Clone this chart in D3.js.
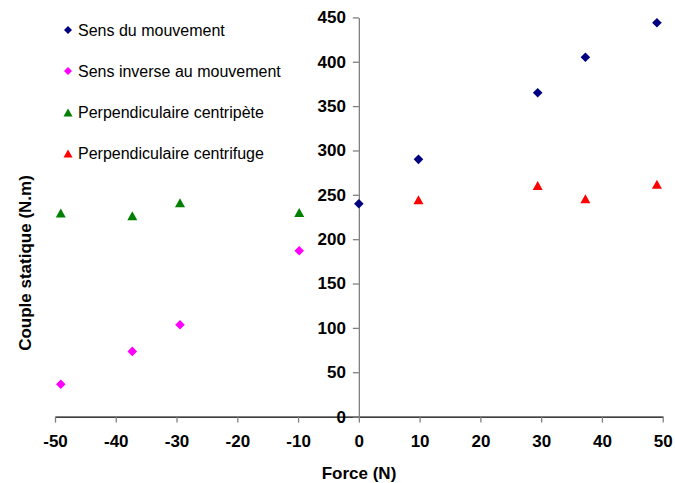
<!DOCTYPE html>
<html><head><meta charset="utf-8">
<script src="https://cdn.jsdelivr.net/npm/d3@7/dist/d3.min.js"></script>
<style>body{margin:0;background:#fff}svg{display:block}text{font-family:"Liberation Sans",Arial,sans-serif}</style>
</head><body><svg id="c" width="675" height="483"></svg>
<script>
const sensX = [0, 9.81, 29.43, 37.28, 49.05];
const sensY = [240, 290, 365, 405, 444];
const inverseX = [-49.05, -37.28, -29.43, -9.81];
const inverseY = [36.5, 73.5, 103.5, 187];
const centripeteX = [-49.05, -37.28, -29.43, -9.81];
const centripeteY = [229.5, 226.5, 241, 230];
const centrifugeX = [9.81, 29.43, 37.28, 49.05];
const centrifugeY = [244.5, 260.5, 245.5, 262];
const xTicks = [-50, -40, -30, -20, -10, 0, 10, 20, 30, 40, 50];
const yTicks = [0, 50, 100, 150, 200, 250, 300, 350, 400, 450];
const seriesNames = ["Sens du mouvement", "Sens inverse au mouvement", "Perpendiculaire centripète", "Perpendiculaire centrifuge"];

const svg = d3.select("#c");
const x = d3.scaleLinear().domain([-50, 50]).range([55, 662.7]);
const y = d3.scaleLinear().domain([0, 450]).range([416.6, 17.4]);
const fmt = d => String(d);

// x axis
const xa = svg.append("g").attr("transform", `translate(0,${y(0)})`)
  .call(d3.axisBottom(x).tickValues(xTicks).tickSize(6).tickSizeOuter(0).tickPadding(12).tickFormat(fmt));
xa.select(".domain").attr("stroke", "#000").attr("stroke-width", 1.3);
xa.selectAll(".tick line").attr("stroke", "#808080").attr("stroke-width", 1.3);
xa.selectAll(".tick text").attr("font-size", 17).attr("font-weight", "bold").attr("fill", "#000")
  .style("font-family", "'Liberation Sans',Arial,sans-serif");

// y axis
const ya = svg.append("g").attr("transform", `translate(${x(0)},0)`)
  .call(d3.axisLeft(y).tickValues(yTicks).tickSize(6).tickSizeOuter(0).tickPadding(7).tickFormat(fmt));
ya.select(".domain").attr("stroke", "#808080").attr("stroke-width", 1.3);
ya.selectAll(".tick line").attr("stroke", "#808080").attr("stroke-width", 1.3);
ya.selectAll(".tick text").attr("font-size", 17).attr("font-weight", "bold").attr("fill", "#000")
  .style("font-family", "'Liberation Sans',Arial,sans-serif");

// axis titles
svg.append("text").attr("x", 359).attr("y", 479).attr("text-anchor", "middle")
  .attr("font-size", 17).attr("font-weight", "bold").text("Force (N)");
svg.append("text").attr("transform", "translate(31,263) rotate(-90)").attr("text-anchor", "middle")
  .attr("font-size", 17).attr("font-weight", "bold").text("Couple statique (N.m)");

function diamondPath(s){ return `M0,${-s}L${s},0L0,${s}L${-s},0Z`; }
function triPath(w,h){ return `M0,${-h/2}L${w/2},${h/2}L${-w/2},${h/2}Z`; }

function drawSeries(xs, ys, color, shape){
  svg.append("g").selectAll("path").data(xs.map((d,i)=>[d, ys[i]])).join("path")
    .attr("transform", d => `translate(${x(d[0])},${y(d[1])})`)
    .attr("d", shape === "d" ? diamondPath(4.8) : triPath(10, 9))
    .attr("fill", color);
}
drawSeries(sensX, sensY, "#000080", "d");
drawSeries(inverseX, inverseY, "#FF00FF", "d");
drawSeries(centripeteX, centripeteY, "#008000", "t");
drawSeries(centrifugeX, centrifugeY, "#FF0000", "t");

// legend
const legColors = ["#000080", "#FF00FF", "#008000", "#FF0000"];
const legShapes = ["d", "d", "t", "t"];
const legY = [30, 71, 112.5, 153.5];
const lg = svg.append("g");
seriesNames.forEach((n, i) => {
  lg.append("path").attr("transform", `translate(68,${legY[i]})`)
    .attr("d", legShapes[i] === "d" ? diamondPath(4) : triPath(9, 8)).attr("fill", legColors[i]);
  lg.append("text").attr("x", 78).attr("y", legY[i]).attr("dy", "0.35em")
    .attr("font-size", 16).attr("fill", "#000").text(n);
});
</script></body></html>
